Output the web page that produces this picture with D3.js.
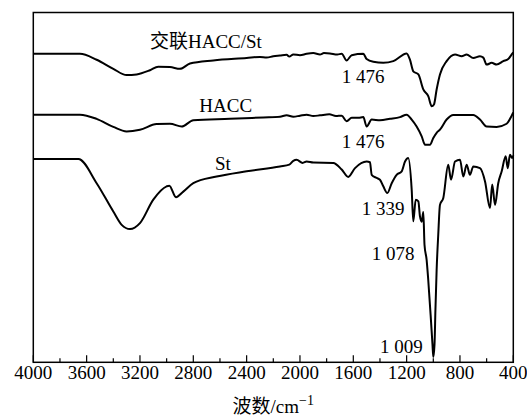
<!DOCTYPE html>
<html>
<head>
<meta charset="utf-8">
<script src="https://cdn.jsdelivr.net/npm/d3@7"></script>
<style>
  html, body { margin: 0; padding: 0; background: #fff; }
  svg { display: block; }
  text { font-family: "Liberation Serif", "Noto Sans CJK SC", serif; fill: #000; }
</style>
</head>
<body>
<svg id="chart" width="527" height="417"></svg>
<script>
// ---- data (wavenumber cm^-1, relative transmittance %) ----
const crosslinkedData = [
  [4000,88.2],[3650,88.2],[3525,86.5],[3400,83.9],[3300,82.1],[3225,82.3],[3125,83.5],[3063,84.5],
  [2975,84.4],[2900,83.9],[2825,85.4],[2650,86.3],[2400,87.0],[2300,87.3],[2250,87.1],[2200,87.5],
  [2150,87.7],[2100,87.9],[2080,87.4],[2050,88.0],[2000,87.8],[1950,88.2],[1900,88.4],[1850,88.0],
  [1820,88.4],[1775,88.3],[1720,88.0],[1687,88.2],[1650,86.3],[1612,87.8],[1525,88.2],[1500,86.7],
  [1450,85.9],[1375,85.6],[1300,86.1],[1200,88.3],[1175,86.5],[1150,83.2],[1112,82.3],[1075,78.0],
  [1037,76.0],[1012,73.2],[995,73.7],[975,78.0],[950,82.3],[900,86.1],[837,88.0],[787,87.5],
  [750,88.0],[700,87.0],[650,87.5],[625,87.1],[600,85.1],[562,85.6],[525,85.1],[475,86.1],
  [438,86.7],[412,88.0],[400,88.6]
];
const haccData = [
  [4000,70.8],[3650,70.8],[3525,69.6],[3400,67.3],[3300,66.0],[3200,66.5],[3075,68.1],[2975,68.2],
  [2887,67.4],[2800,69.2],[2525,69.6],[2275,70.0],[2150,70.2],[2100,70.6],[2050,70.2],[2000,70.5],
  [1950,70.8],[1900,70.4],[1850,70.6],[1780,70.9],[1730,70.4],[1687,70.5],[1650,68.9],[1612,69.9],
  [1562,69.9],[1525,70.1],[1500,67.4],[1462,69.4],[1400,69.2],[1325,69.6],[1250,70.1],[1200,70.8],
  [1162,69.4],[1125,67.4],[1087,64.6],[1062,62.2],[1025,62.2],[1000,64.1],[975,65.6],[950,66.5],
  [900,69.4],[850,70.7],[700,70.7],[650,69.4],[600,67.4],[525,67.3],[450,68.2],[412,70.5],[400,71.4]
];
const starchData = [
  [4000,58.1],[3662,58.1],[3525,51.2],[3400,43.1],[3337,39.3],[3275,38.1],[3200,39.8],[3100,46.5],
  [3000,50.3],[2980,50.5],[2930,47.2],[2875,48.8],[2800,51.2],[2625,53.1],[2400,54.6],[2150,56.0],
  [2080,56.5],[2050,57.6],[2025,57.9],[1980,57.0],[1950,57.4],[1900,57.1],[1750,57.0],[1687,55.1],
  [1638,53.0],[1587,55.5],[1500,57.4],[1475,57.2],[1462,53.6],[1425,52.7],[1400,52.2],[1375,50.3],
  [1345,48.4],[1312,51.2],[1275,53.6],[1237,54.6],[1212,57.4],[1188,58.4],[1162,49.3],[1150,40.3],
  [1132,46.5],[1112,46.0],[1100,41.7],[1087,40.2],[1075,43.0],[1066,33.6],[1050,29.3],[1038,23.6],
  [1020,13.5],[1006,5.0],[1000,1.5],[991,5.0],[984,15.0],[975,26.4],[963,36.4],[950,45.0],
  [925,47.0],[888,56.5],[867,52.2],[837,57.4],[800,57.9],[775,53.1],[750,56.5],[725,53.6],
  [700,56.0],[650,55.5],[612,51.7],[575,44.1],[558,50.8],[537,45.0],[513,51.2],[487,54.6],
  [457,58.9],[442,55.5],[425,59.3],[408,58.4],[400,59.1]
];
const majorTicks = [4000,3600,3200,2800,2400,2000,1600,1200,800,400];
const minorTicks = [3800,3400,3000,2600,2200,1800,1400,1000,600];
const seriesLabels = [
  { text: "交联HACC/St", wn: 3125, t: 89.9 },
  { text: "HACC", wn: 2755, t: 71.6 },
  { text: "St", wn: 2637, t: 54.9 }
];
const peakLabels = [
  { text: "1 476", wn: 1687, t: 79.9 },
  { text: "1 476", wn: 1687, t: 61.3 },
  { text: "1 339", wn: 1537, t: 42.2 },
  { text: "1 078", wn: 1462, t: 29.3 },
  { text: "1 009", wn: 1400, t: 2.6 }
];

// ---- layout ----
const svg = d3.select("#chart");
const mLeft = 33.3, mRight = 513.3, mTop = 12.5, mBottom = 362.3;
const x = d3.scaleLinear().domain([4000, 400]).range([mLeft, mRight]);
const y = d3.scaleLinear().domain([0, 100]).range([mBottom, mTop]);

const line = d3.line()
  .x(d => x(d[0]))
  .y(d => y(d[1]))
  .curve(d3.curveMonotoneX);

const g = svg.append("g");
[crosslinkedData, haccData, starchData].forEach(data => {
  g.append("path")
    .datum(data)
    .attr("d", line)
    .attr("fill", "none")
    .attr("stroke", "#000")
    .attr("stroke-width", 2)
    .attr("stroke-linejoin", "round");
});

// frame
svg.append("rect")
  .attr("x", mLeft).attr("y", mTop)
  .attr("width", mRight - mLeft).attr("height", mBottom - mTop)
  .attr("fill", "none").attr("stroke", "#000").attr("stroke-width", 1.5);

// bottom axis (inward ticks)
const axisG = svg.append("g").attr("transform", `translate(0,${mBottom})`);
axisG.selectAll("line.major").data(majorTicks).join("line")
  .attr("class", "major")
  .attr("x1", d => x(d)).attr("x2", d => x(d))
  .attr("y1", 0).attr("y2", -7)
  .attr("stroke", "#000").attr("stroke-width", 1.2);
axisG.selectAll("line.minor").data(minorTicks).join("line")
  .attr("class", "minor")
  .attr("x1", d => x(d)).attr("x2", d => x(d))
  .attr("y1", 0).attr("y2", -4)
  .attr("stroke", "#000").attr("stroke-width", 1.2);
axisG.selectAll("text.tick").data(majorTicks).join("text")
  .attr("class", "tick")
  .attr("x", d => x(d)).attr("y", 17)
  .attr("text-anchor", "middle")
  .style("font-size", "19px")
  .text(d => d);

// axis title
const title = svg.append("text")
  .attr("x", (mLeft + mRight) / 2)
  .attr("y", 413)
  .attr("text-anchor", "middle")
  .style("font-size", "19px");
title.append("tspan").text("波数/cm");
title.append("tspan").attr("dy", -8).style("font-size", "14px").text("−1");

// labels
svg.selectAll("text.series").data(seriesLabels).join("text")
  .attr("class", "series")
  .attr("x", d => x(d.wn)).attr("y", d => y(d.t))
  .style("font-size", "19px")
  .text(d => d.text);
svg.selectAll("text.peak").data(peakLabels).join("text")
  .attr("class", "peak")
  .attr("x", d => x(d.wn)).attr("y", d => y(d.t))
  .style("font-size", "19px")
  .text(d => d.text);
</script>
</body>
</html>
